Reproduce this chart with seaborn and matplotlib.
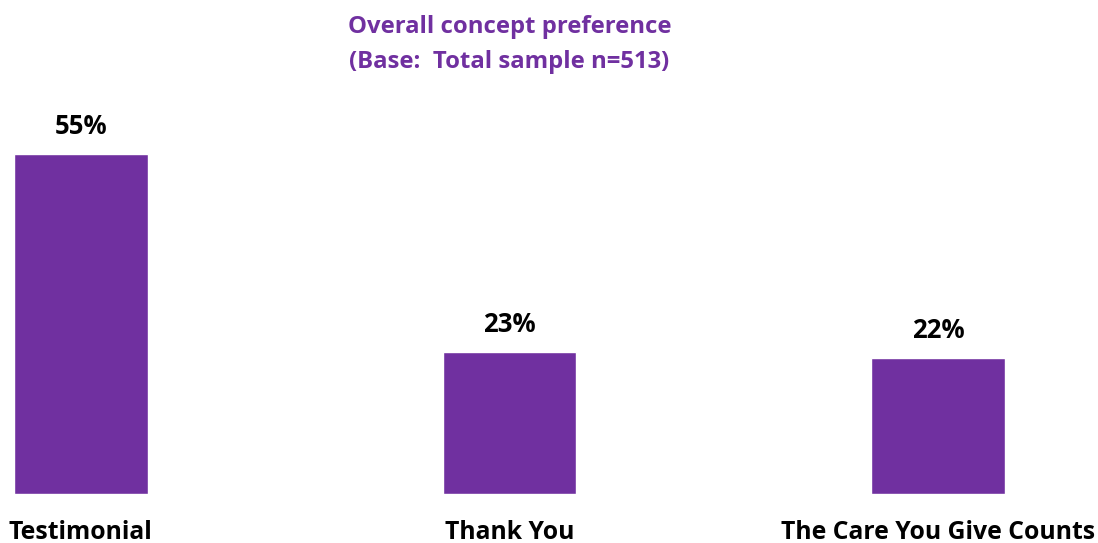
import matplotlib
matplotlib.use("Agg")
import matplotlib.pyplot as plt
import seaborn as sns
import pandas as pd

categories = ["Testimonial", "Thank You", "The Care You Give Counts"]
values = [55, 23, 22]
value_labels = ["55%", "23%", "22%"]

sns.set_theme(style="white")
plt.rcParams['font.family'] = ['Open Sans', 'DejaVu Sans']

purple = "#7030A0"
W, H = 1098, 543
fig = plt.figure(figsize=(W / 100, H / 100), dpi=100)
ax_left, ax_right = 14 / W, 1005 / W
ax_bottom = (H - 494) / H
ax_top = (H - (494 - 60 * 6.18)) / H
ax = fig.add_axes([ax_left, ax_bottom, ax_right - ax_left, ax_top - ax_bottom])

df = pd.DataFrame({"cat": categories, "val": values})
sns.barplot(data=df, x="cat", y="val", color=purple, saturation=1, width=0.312, ax=ax)
ax.set_xlim(-0.156, 2.156)
ax.set_ylim(0, 60)

for i, (v, lab) in enumerate(zip(values, value_labels)):
    ax.annotate(lab, (i, v), xytext=(0, 10), textcoords="offset points",
                ha="center", va="bottom", fontsize=18.5, fontweight="bold", color="black")

ax.set_xlabel("")
ax.set_ylabel("")
ax.set_yticks([])
ax.tick_params(axis="x", length=0, pad=18.5)
for t in ax.get_xticklabels():
    t.set_fontsize(17.8)
    t.set_fontweight("bold")
    t.set_color("black")
for s in ax.spines.values():
    s.set_visible(False)

cx = (ax_left + ax_right) / 2
fig.text(cx, 1 - 27 / H, "Overall concept preference", ha="center", va="center",
         fontsize=17.2, fontweight="bold", color=purple)
fig.text(cx, 1 - 62 / H, "(Base:  Total sample n=513)", ha="center", va="center",
         fontsize=17.2, fontweight="bold", color=purple)

fig.savefig("out.png", dpi=100, facecolor="white")
